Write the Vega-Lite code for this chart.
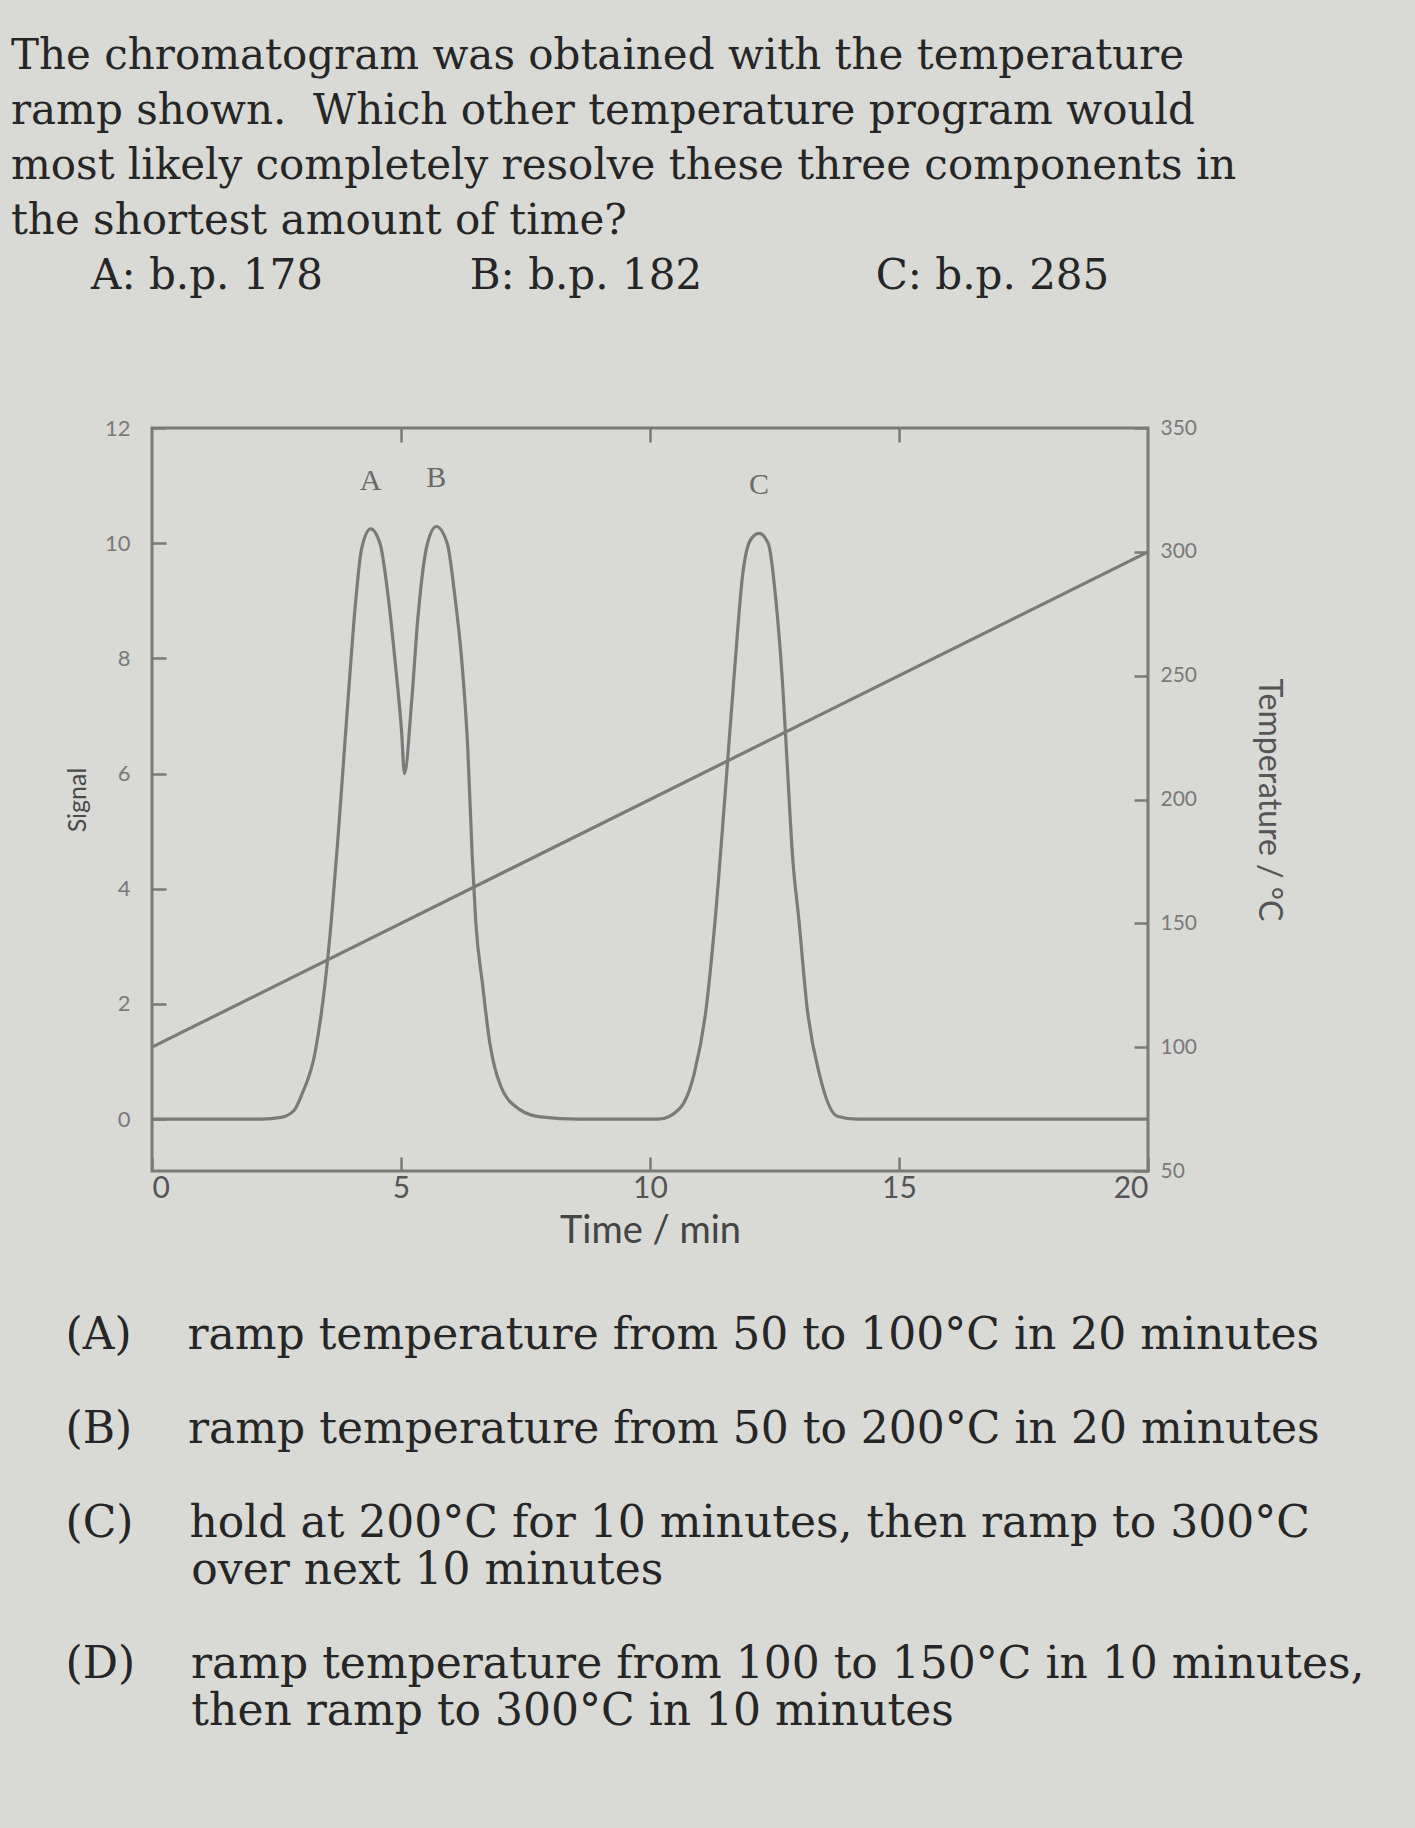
{
  "$schema": "https://vega.github.io/schema/vega-lite/v6.json",
  "background": "#d9d9d5",
  "padding": {"left": 10, "top": 34, "right": 62, "bottom": 94},
  "config": {
    "font": "Lato",
    "view": {"stroke": "#7a7a7a", "strokeWidth": 3},
    "axis": {"grid": false, "domain": false, "tickColor": "#7a7a7a", "tickWidth": 2.5}
  },
  "title": {
    "text": [
      "The chromatogram was obtained with the temperature",
      "ramp shown.\u00a0 Which other temperature program would",
      "most likely completely resolve these three components in",
      "the shortest amount of time?",
      "\u200b\u00a0\u00a0\u00a0\u00a0\u00a0\u00a0A: b.p. 178\u00a0\u00a0\u00a0\u00a0\u00a0\u00a0\u00a0\u00a0\u00a0\u00a0\u00a0B: b.p. 182\u00a0\u00a0\u00a0\u00a0\u00a0\u00a0\u00a0\u00a0\u00a0\u00a0\u00a0\u00a0\u00a0C: b.p. 285"
    ],
    "anchor": "start",
    "font": "DejaVu Serif",
    "fontSize": 42,
    "fontWeight": "normal",
    "color": "#262626",
    "lineHeight": 55,
    "dx": -53,
    "offset": 118
  },
  "datasets": {
    "chromatogram": [
      {"time": 0, "signal": 0},
      {"time": 2.2, "signal": 0},
      {"time": 2.59, "signal": 0.03},
      {"time": 2.85, "signal": 0.15},
      {"time": 3.01, "signal": 0.43},
      {"time": 3.28, "signal": 1.18},
      {"time": 3.47, "signal": 2.32},
      {"time": 3.6, "signal": 3.44},
      {"time": 3.74, "signal": 4.95},
      {"time": 3.93, "signal": 7.21},
      {"time": 4.1, "signal": 9.09},
      {"time": 4.21, "signal": 9.91},
      {"time": 4.39, "signal": 10.25},
      {"time": 4.58, "signal": 9.99},
      {"time": 4.74, "signal": 9.09},
      {"time": 4.88, "signal": 7.96},
      {"time": 5.01, "signal": 6.75},
      {"time": 5.07, "signal": 6.0},
      {"time": 5.21, "signal": 7.21},
      {"time": 5.34, "signal": 8.71},
      {"time": 5.53, "signal": 9.99},
      {"time": 5.71, "signal": 10.29},
      {"time": 5.93, "signal": 9.99},
      {"time": 6.08, "signal": 9.09},
      {"time": 6.22, "signal": 7.96},
      {"time": 6.34, "signal": 6.45},
      {"time": 6.43, "signal": 4.57},
      {"time": 6.5, "signal": 3.44},
      {"time": 6.64, "signal": 2.32},
      {"time": 6.78, "signal": 1.34},
      {"time": 7.0, "signal": 0.58},
      {"time": 7.38, "signal": 0.17},
      {"time": 7.8, "signal": 0.04},
      {"time": 8.57, "signal": 0},
      {"time": 10.17, "signal": 0},
      {"time": 10.59, "signal": 0.18},
      {"time": 10.89, "signal": 0.8},
      {"time": 11.12, "signal": 1.87},
      {"time": 11.3, "signal": 3.38},
      {"time": 11.51, "signal": 5.66},
      {"time": 11.71, "signal": 7.93},
      {"time": 11.86, "signal": 9.45},
      {"time": 12.02, "signal": 10.06},
      {"time": 12.19, "signal": 10.17},
      {"time": 12.38, "signal": 9.98},
      {"time": 12.52, "signal": 9.08},
      {"time": 12.66, "signal": 7.59},
      {"time": 12.76, "signal": 6.09},
      {"time": 12.86, "signal": 4.59},
      {"time": 12.99, "signal": 3.46},
      {"time": 13.15, "signal": 1.97},
      {"time": 13.41, "signal": 0.75},
      {"time": 13.76, "signal": 0.05},
      {"time": 14.15, "signal": 0},
      {"time": 20, "signal": 0}
    ],
    "ramp": [
      {"time": 0, "temp": 100},
      {"time": 20, "temp": 300}
    ],
    "peaks": [
      {"peak": "A", "time": 4.39, "signal": 10.25},
      {"peak": "B", "time": 5.71, "signal": 10.29},
      {"peak": "C", "time": 12.19, "signal": 10.17}
    ]
  },
  "vconcat": [
    {
      "width": 996,
      "height": 743,
      "title": {
        "text": [
          "(A)\u00a0\u00a0\u00a0\u00a0ramp temperature from 50 to 100°C in 20 minutes",
          "\u200b\u00a0",
          "(B)\u00a0\u00a0\u00a0\u00a0ramp temperature from 50 to 200°C in 20 minutes",
          "\u200b\u00a0",
          "(C)\u00a0\u00a0\u00a0\u00a0hold at 200°C for 10 minutes, then ramp to 300°C",
          "\u200b\u00a0\u00a0\u00a0\u00a0\u00a0\u00a0\u00a0\u00a0\u00a0over next 10 minutes",
          "\u200b\u00a0",
          "(D)\u00a0\u00a0\u00a0\u00a0ramp temperature from 100 to 150°C in 10 minutes,",
          "\u200b\u00a0\u00a0\u00a0\u00a0\u00a0\u00a0\u00a0\u00a0\u00a0then ramp to 300°C in 10 minutes"
        ],
        "orient": "bottom",
        "anchor": "start",
        "font": "DejaVu Serif",
        "fontSize": 44,
        "fontWeight": "normal",
        "color": "#262626",
        "lineHeight": 47,
        "offset": 64
      },
      "layer": [
        {
          "data": {"name": "chromatogram"},
          "mark": {"type": "line", "interpolate": "monotone", "color": "#7a7a7a", "strokeWidth": 3.2},
          "encoding": {
            "x": {
              "field": "time", "type": "quantitative",
              "scale": {"domain": [0, 20], "nice": false},
              "axis": {
                "orient": "bottom", "values": [0, 5, 10, 15, 20], "tickSize": -14,
                "labelPadding": 16, "labelFontSize": 30, "labelColor": "#555555",
                "title": "Time / min", "titleFontSize": 38, "titleFontWeight": "normal",
                "titleColor": "#444444", "titlePadding": 9
              }
            },
            "y": {
              "field": "signal", "type": "quantitative",
              "scale": {"domain": [-0.9, 12], "nice": false, "zero": false},
              "axis": {
                "orient": "left", "values": [0, 2, 4, 6, 8, 10, 12], "tickSize": -14,
                "labelPadding": 36, "labelFontSize": 22, "labelColor": "#7a7a7a",
                "title": "Signal", "titleFontSize": 25, "titleFontWeight": "normal",
                "titleColor": "#4a4a4a", "titlePadding": 14
              }
            }
          }
        },
        {
          "data": {"name": "ramp"},
          "mark": {"type": "line", "color": "#7a7a7a", "strokeWidth": 3.2},
          "encoding": {
            "x": {"field": "time", "type": "quantitative", "scale": {"domain": [0, 20], "nice": false}, "axis": null},
            "y": {
              "field": "temp", "type": "quantitative",
              "scale": {"domain": [50, 350], "nice": false, "zero": false},
              "axis": {
                "orient": "right", "values": [50, 100, 150, 200, 250, 300, 350], "tickSize": -14,
                "labelPadding": 26, "labelFontSize": 21, "labelColor": "#7a7a7a",
                "title": "Temperature / °C", "titleFontSize": 32, "titleFontWeight": "normal",
                "titleColor": "#555555", "titlePadding": 55
              }
            }
          }
        },
        {
          "data": {"name": "peaks"},
          "mark": {"type": "text", "font": "Liberation Serif", "fontSize": 30, "color": "#6a6a6a", "dy": -48},
          "encoding": {
            "x": {
              "field": "time", "type": "quantitative",
              "scale": {"domain": [0, 20], "nice": false},
              "axis": {"orient": "top", "values": [5, 10, 15], "labels": false, "tickSize": -14, "title": null}
            },
            "y": {"field": "signal", "type": "quantitative", "scale": {"domain": [-0.9, 12], "nice": false, "zero": false}, "axis": null},
            "text": {"field": "peak"}
          }
        }
      ],
      "resolve": {"scale": {"y": "independent"}, "axis": {"x": "independent", "y": "independent"}}
    }
  ]
}
